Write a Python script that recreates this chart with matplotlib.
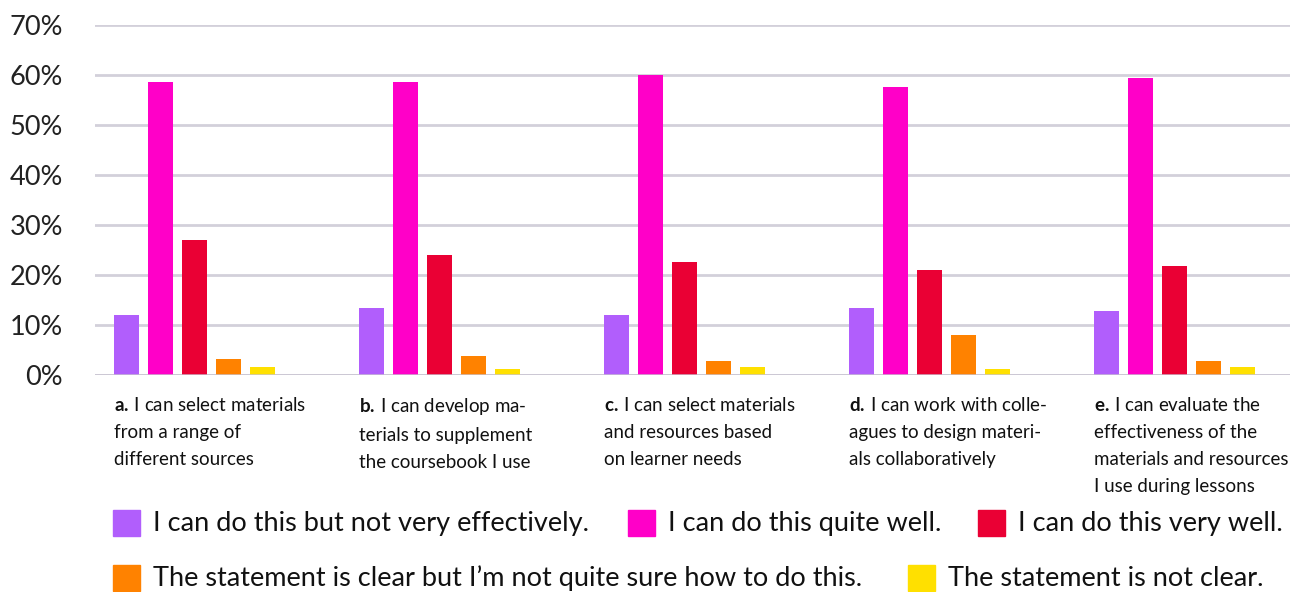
import numpy as np
import matplotlib.pyplot as plt
from matplotlib.patches import Rectangle

plt.rcParams['font.family'] = ['Lato', 'DejaVu Sans']
plt.rcParams['mathtext.fontset'] = 'custom'
plt.rcParams['mathtext.rm'] = 'Lato'
plt.rcParams['mathtext.bf'] = 'Lato:bold'

# Datos
statements = [
    "$\\mathbf{a.}$\u2009I can select materials\nfrom a range of\ndifferent sources",
    "$\\mathbf{b.}$\u2009I can develop ma-\nterials to supplement\nthe coursebook I use",
    "$\\mathbf{c.}$\u2009I can select materials\nand resources based\non learner needs",
    "$\\mathbf{d.}$\u2009I can work with colle-\nagues to design materi-\nals collaboratively",
    "$\\mathbf{e.}$\u2009I can evaluate the\neffectiveness of the\nmaterials and resources\nI use during lessons",
]
series = [
    "I can do this but not very effectively.",
    "I can do this quite well.",
    "I can do this very well.",
    "The statement is clear but I\u2019m not quite sure how to do this.",
    "The statement is not clear.",
]
not_effective = [12.0, 13.4, 12.0, 13.4, 12.8]
quite_well = [58.6, 58.6, 60.0, 57.6, 59.4]
very_well = [27.0, 24.0, 22.6, 21.0, 21.8]
not_sure = [3.2, 3.8, 2.8, 8.0, 2.8]
not_clear = [1.6, 1.2, 1.6, 1.2, 1.6]
values = [not_effective, quite_well, very_well, not_sure, not_clear]
colors = ["#B15EFC", "#FF00C8", "#EA0034", "#FF8200", "#FFE000"]

fig = plt.figure(figsize=(12.92, 5.92), dpi=100)
ax = fig.add_axes([95 / 1292, 217 / 592, 1195 / 1292, 350 / 592])

x = np.arange(len(statements))
offset = 0.078
step = 0.139
width = 0.102
for k, (vals, col) in enumerate(zip(values, colors)):
    ax.bar(x + offset + k * step, vals, width=width, align='edge', color=col, zorder=2)

ax.set_xlim(0, 1195 / 245)
ax.set_ylim(0, 70)
ax.set_yticks(np.arange(0, 71, 10))
ax.set_yticklabels([f"{v}%" for v in range(0, 71, 10)], fontsize=19.5, color="#222222")
ax.tick_params(axis='y', length=0, pad=23)
ax.set_xticks([])
ax.grid(axis='y', color="#D3D0DA", linewidth=2, zorder=0)
ax.axhline(0, color="#C8C4D0", linewidth=2, alpha=0.8, zorder=3)
for s in ax.spines.values():
    s.set_visible(False)

# Etiquetas de las categorías
for i, txt in enumerate(statements):
    ax.text(i + offset, -0.06, txt, transform=ax.get_xaxis_transform(),
            ha='left', va='top', fontsize=13.5, color="#111111", linespacing=1.72)

# Leyenda manual
rows = [(523, [(113, 0), (628, 1), (978, 2)]), (578, [(113, 3), (908, 4)])]
for yc, items in rows:
    for xp, idx in items:
        fig.add_artist(Rectangle((xp / 1292, (592 - yc - 13) / 592), 27 / 1292, 26 / 592,
                                 transform=fig.transFigure, color=colors[idx]))
        fig.text((xp + 40) / 1292, (592 - yc) / 592, series[idx], ha='left', va='center',
                 fontsize=19.5, color="#111111")

plt.savefig("out.png", dpi=100)
